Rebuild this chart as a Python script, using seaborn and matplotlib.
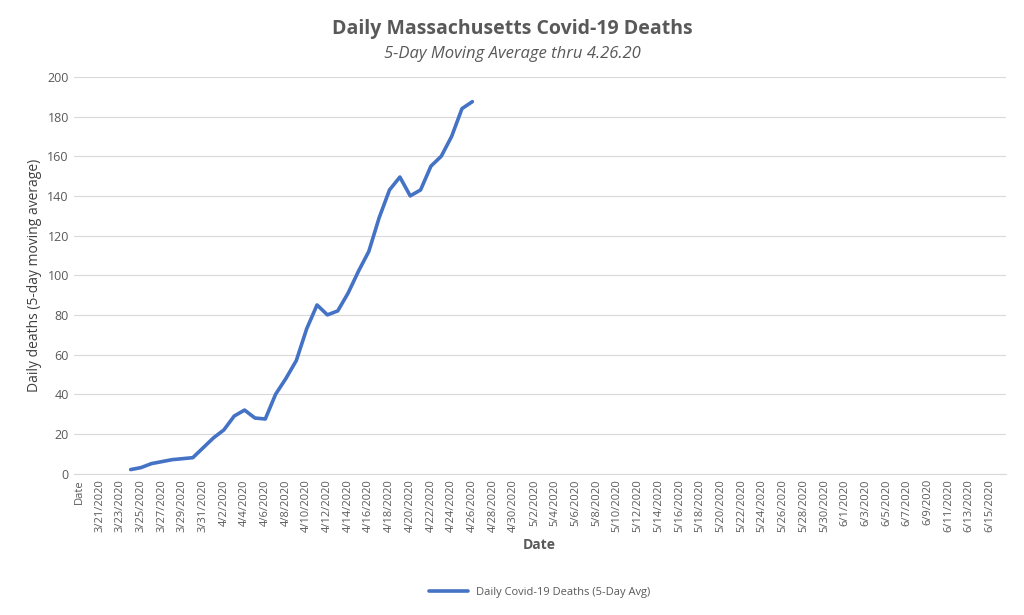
import pandas as pd
import numpy as np
import seaborn as sns
import matplotlib.pyplot as plt

sns.set_style("white")
plt.rcParams['font.family'] = ['Open Sans', 'DejaVu Sans']

# Categories: a stray "Date" header, then 3/20/2020 .. 6/16/2020
dates = pd.date_range("2020-03-20", "2020-06-16")
categories = ["Date"] + [f"{d.month}/{d.day}/{d.year}" for d in dates]

# 5-day average values 3/24 .. 4/26
first_point = "3/24/2020"
deaths = [2, 3, 5, 6, 7, 7.5, 8, 13, 18, 22, 29, 32, 28, 27.5, 40, 48, 57, 73, 85,
          80, 82, 91, 102, 112, 129, 143, 149.5, 140, 143, 155, 160, 170, 184, 187.5]

start = categories.index(first_point)
df = pd.DataFrame({"pos": np.arange(start, start + len(deaths)), "deaths": deaths})

fig, ax = plt.subplots(figsize=(10.24, 6.15), dpi=100)
fig.subplots_adjust(left=0.072, right=0.982, top=0.875, bottom=0.23)

sns.lineplot(data=df, x="pos", y="deaths", ax=ax, color="#4472C4", linewidth=2.6,
             label="Daily Covid-19 Deaths (5-Day Avg)")

ax.set_xlim(-0.5, len(categories) - 0.5)
ax.set_ylim(0, 200)
ax.set_yticks(range(0, 201, 20))
ax.yaxis.grid(True, color="#d9d9d9", linewidth=0.8)
ax.set_xticks(range(0, len(categories), 2))
ax.set_xticklabels(categories[::2], rotation=90, fontsize=8, color="#595959")
ax.tick_params(axis="y", labelsize=9, colors="#595959", length=0)
ax.tick_params(axis="x", length=0, pad=4)
for s in ["top", "right", "left"]:
    ax.spines[s].set_visible(False)
ax.spines["bottom"].set_color("#d9d9d9")

ax.set_xlabel("Date", fontsize=10, color="#595959", fontweight="bold")
ax.set_ylabel("Daily deaths (5-day moving average)", fontsize=10, color="#404040")

fig.text(0.5, 0.945, "Daily Massachusetts Covid-19 Deaths", ha="center", fontsize=14,
         color="#595959", fontweight="bold")
fig.text(0.5, 0.905, "5-Day Moving Average thru 4.26.20", ha="center", fontsize=12,
         color="#595959", style="italic")

ax.legend(loc="upper center", bbox_to_anchor=(0.5, -0.26), frameon=False, fontsize=8,
          labelcolor="#595959", handlelength=3.5)

fig.savefig("out.png", dpi=100)
